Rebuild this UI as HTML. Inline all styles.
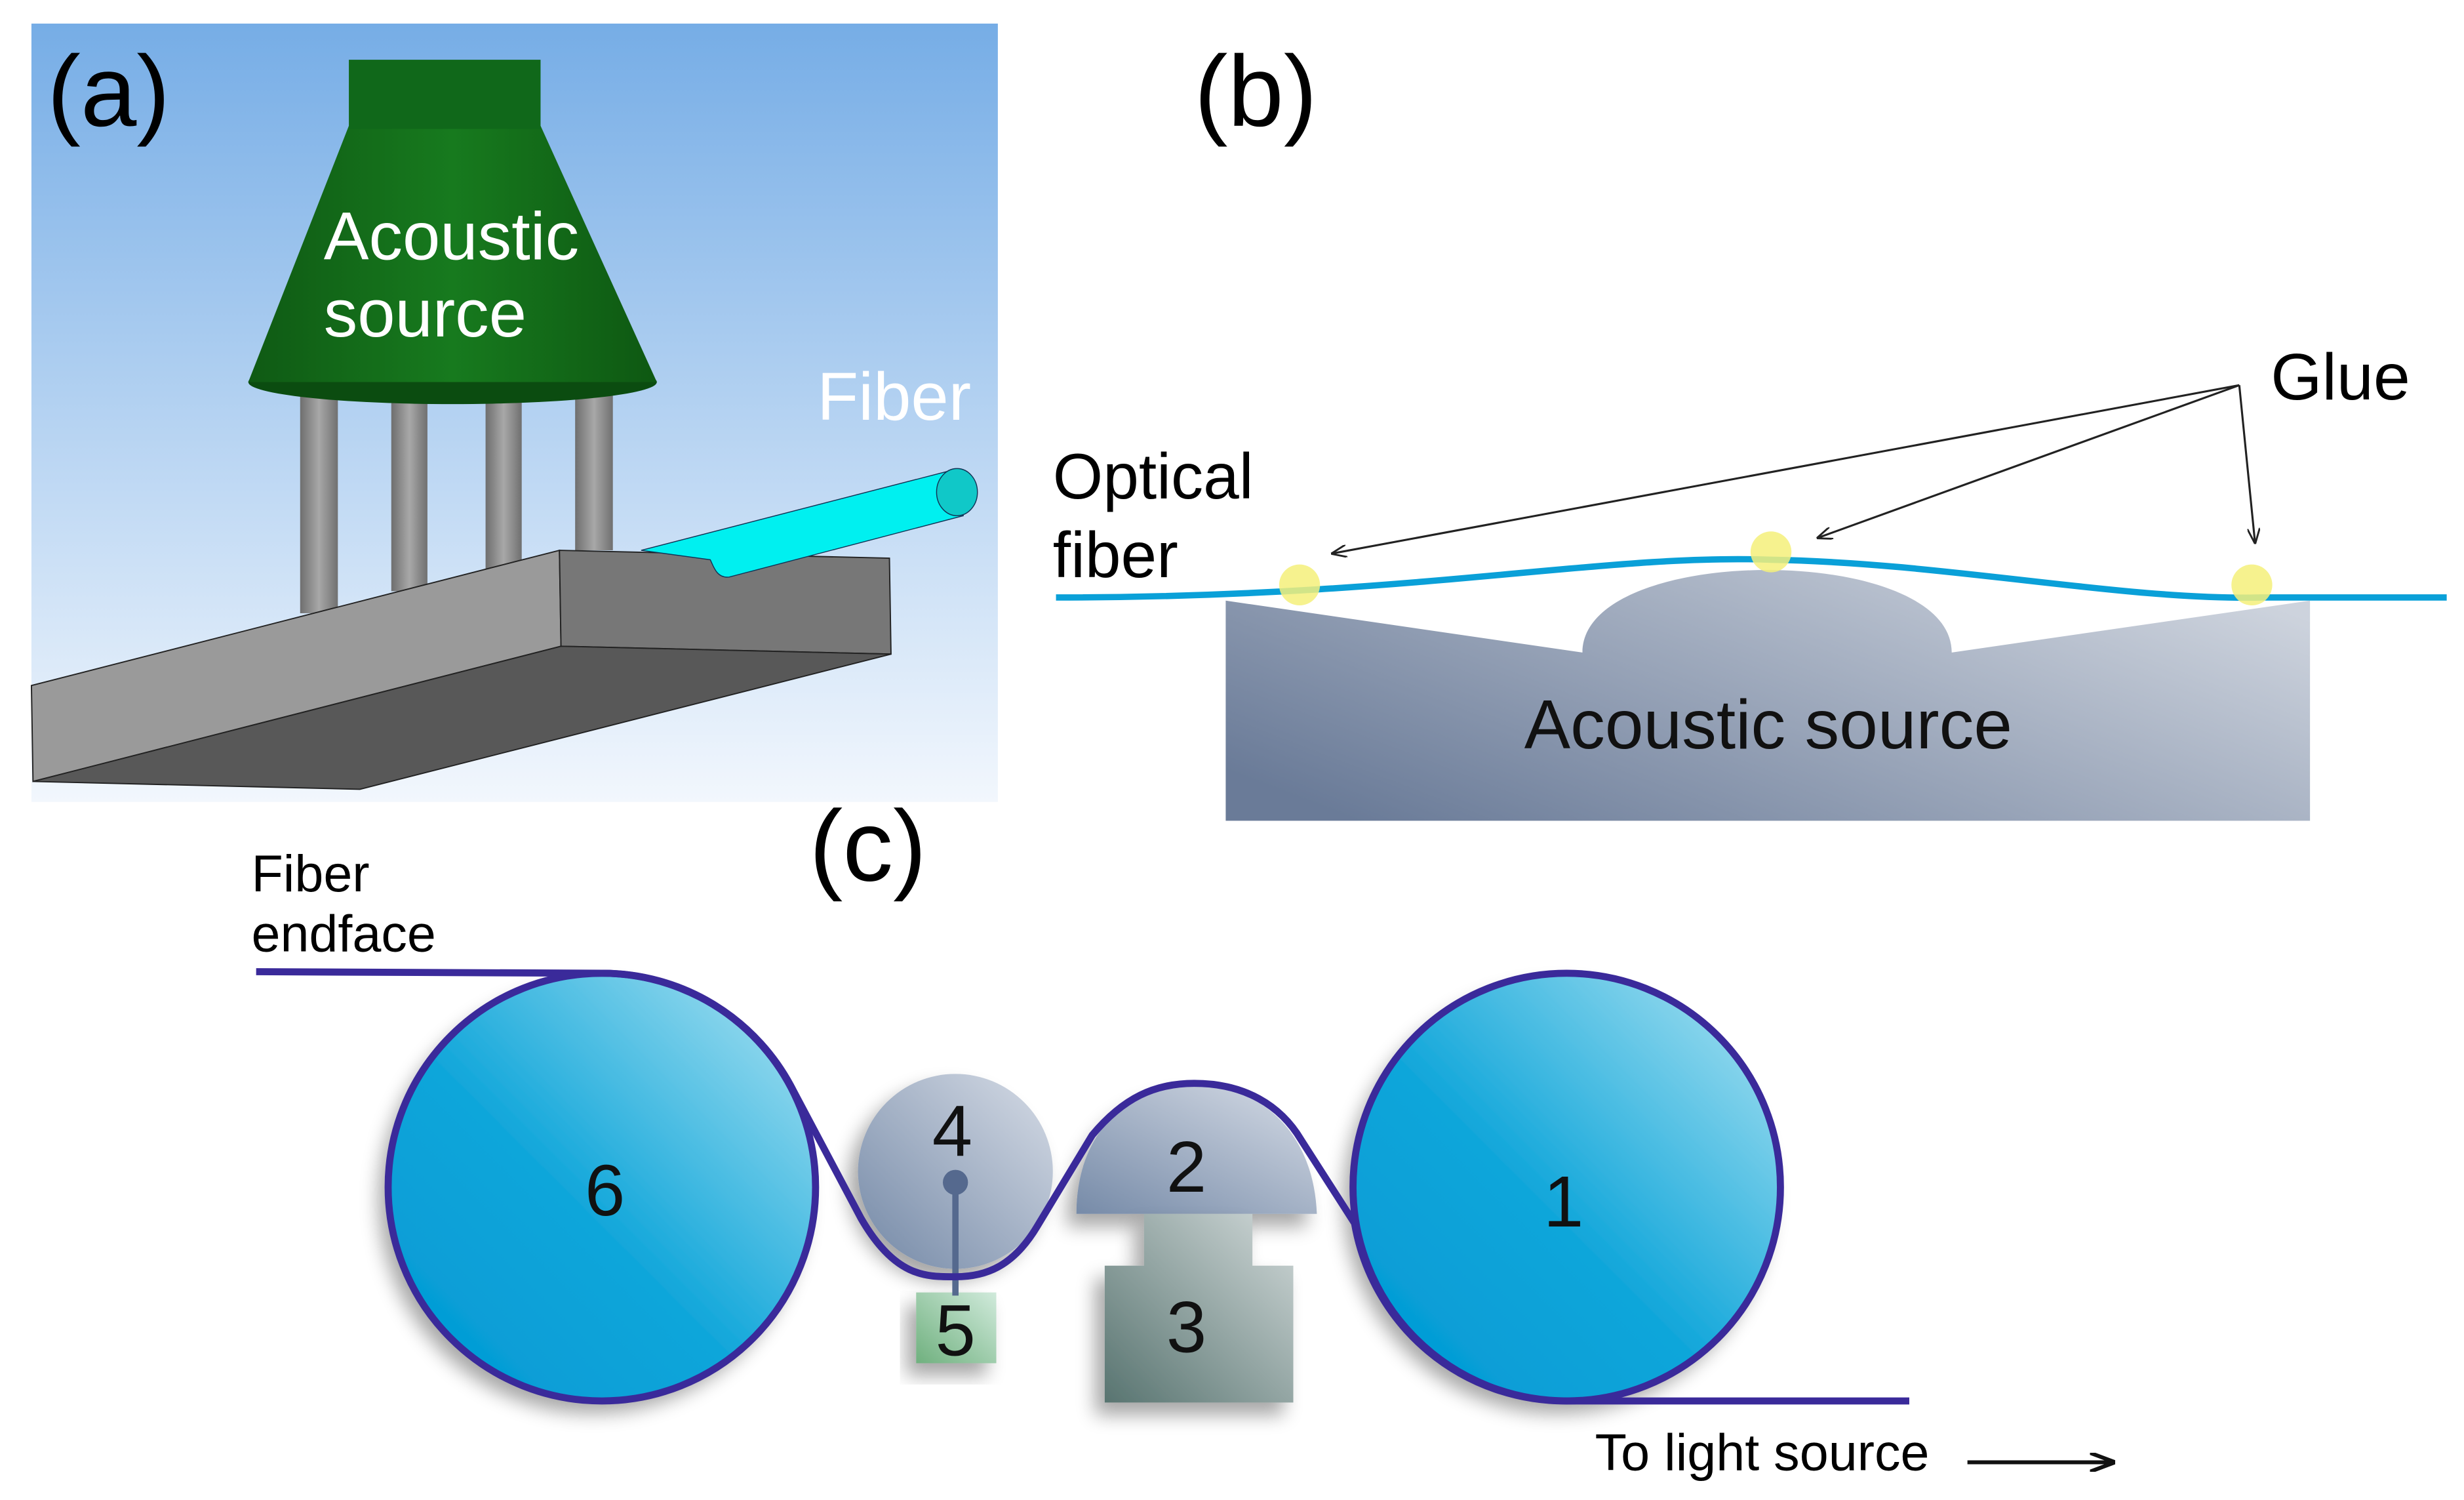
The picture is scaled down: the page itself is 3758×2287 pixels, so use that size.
<!DOCTYPE html>
<html><head><meta charset="utf-8"><style>html,body{margin:0;padding:0;background:#fff}svg{display:block}</style></head>
<body>
<svg width="3758" height="2287" viewBox="0 0 1568 954" preserveAspectRatio="none" xmlns="http://www.w3.org/2000/svg" font-family="Liberation Sans, Arial, sans-serif">
<defs>
<linearGradient id="sky" x1="0" y1="0" x2="0" y2="1"><stop offset="0" stop-color="#76ade6"/><stop offset="1" stop-color="#f2f7fd"/></linearGradient>
<linearGradient id="pil" x1="0" y1="0" x2="1" y2="0"><stop offset="0" stop-color="#6e6e6e"/><stop offset="0.5" stop-color="#a8a8a8"/><stop offset="1" stop-color="#707070"/></linearGradient>
<linearGradient id="blk" x1="0" y1="0.8" x2="1" y2="0.2"><stop offset="0" stop-color="#6a7b98"/><stop offset="1" stop-color="#cdd3dd"/></linearGradient>
<linearGradient id="wh" x1="0" y1="1" x2="1" y2="0"><stop offset="0" stop-color="#0098d4"/><stop offset="0.45" stop-color="#10a6da"/><stop offset="1" stop-color="#b0e4f2"/></linearGradient>
<linearGradient id="gr" x1="0" y1="1" x2="1" y2="0"><stop offset="0" stop-color="#7388a6"/><stop offset="1" stop-color="#d6dce6"/></linearGradient>
<linearGradient id="g3" x1="0" y1="1" x2="1" y2="0"><stop offset="0" stop-color="#587470"/><stop offset="1" stop-color="#d0d8d8"/></linearGradient>
<linearGradient id="g5" x1="0" y1="1" x2="1" y2="0"><stop offset="0" stop-color="#6fb07e"/><stop offset="1" stop-color="#d0eadb"/></linearGradient>
<linearGradient id="cone" x1="0" y1="0" x2="1" y2="0"><stop offset="0" stop-color="#0f5a14"/><stop offset="0.5" stop-color="#177a1e"/><stop offset="1" stop-color="#0e5812"/></linearGradient>
<filter id="sh" x="-20%" y="-20%" width="150%" height="150%"><feGaussianBlur in="SourceAlpha" stdDeviation="6"/><feOffset dx="-6" dy="8"/><feComponentTransfer><feFuncA type="linear" slope="0.35"/></feComponentTransfer><feMerge><feMergeNode/><feMergeNode in="SourceGraphic"/></feMerge></filter>
<marker id="ar" markerWidth="10" markerHeight="8" refX="9" refY="4" orient="auto" markerUnits="userSpaceOnUse"><path d="M0,0 L10,4 L0,8" fill="none" stroke="#222" stroke-width="1.2"/></marker>
<marker id="ar2" markerWidth="16" markerHeight="12" refX="15" refY="6" orient="auto" markerUnits="userSpaceOnUse"><path d="M0,0 L16,6 L0,12" fill="none" stroke="#111" stroke-width="2.5"/></marker>
</defs>

<!-- Panel a -->
<rect x="20" y="15" width="615" height="495" fill="url(#sky)"/>
<rect x="191" y="252" width="24" height="138" fill="url(#pil)"/>
<rect x="249" y="238" width="23" height="138" fill="url(#pil)"/>
<rect x="309" y="252" width="23" height="110" fill="url(#pil)"/>
<rect x="366" y="240" width="24" height="110" fill="url(#pil)"/>
<ellipse cx="288" cy="243" rx="130" ry="14" fill="#0b4c10"/>
<polygon points="222,80 344,80 418,243 158,243" fill="url(#cone)"/>
<rect x="222" y="38" width="122" height="44" fill="#10681a"/>
<polygon points="20,436 356,350 357,411 21,497" fill="#9a9a9a" stroke="#222" stroke-width="0.8"/>
<polygon points="356,350 566,355 567,416 357,411" fill="#777" stroke="#222" stroke-width="0.8"/>
<polygon points="21,497 357,411 567,416 229,502" fill="#585858" stroke="#222" stroke-width="0.8"/>
<path d="M408,350 L606,299 L613,328 L464,367 C456,368 454,360 452,356 Z" fill="#00f0f0" stroke="#135" stroke-width="0.6"/>
<ellipse cx="609" cy="313" rx="13" ry="15" fill="#10c8c8" stroke="#135" stroke-width="0.6"/>
<text x="30" y="80" font-size="64" fill="#000">(a)</text>
<text x="206" y="165" font-size="43" fill="#fff">Acoustic</text>
<text x="206" y="214" font-size="43" fill="#fff">source</text>
<text x="520" y="267" font-size="43" fill="#fff">Fiber</text>

<!-- Panel b -->
<text x="760" y="80" font-size="64" fill="#000">(b)</text>
<path d="M780,382 L1007,415 C1007,345 1242,345 1242,415 L1470,382 L1470,522 L780,522 Z" fill="url(#blk)"/>
<path d="M672,380 C900,380 1020,352 1127,356 C1240,358 1350,382 1440,380 L1557,380" fill="none" stroke="#0aa0d8" stroke-width="4"/>
<circle cx="827" cy="372" r="13" fill="#f4f07a" opacity="0.85"/>
<circle cx="1127" cy="351" r="13" fill="#f4f07a" opacity="0.85"/>
<circle cx="1433" cy="372" r="13" fill="#f4f07a" opacity="0.85"/>
<line x1="1425" y1="245" x2="848" y2="352" stroke="#222" stroke-width="1.3" marker-end="url(#ar)"/>
<line x1="1425" y1="245" x2="1157" y2="342" stroke="#222" stroke-width="1.3" marker-end="url(#ar)"/>
<line x1="1425" y1="245" x2="1435" y2="345" stroke="#222" stroke-width="1.3" marker-end="url(#ar)"/>
<text x="1445" y="254" font-size="42" fill="#000">Glue</text>
<text x="670" y="317" font-size="41" fill="#000">Optical</text>
<text x="670" y="367" font-size="41" fill="#000">fiber</text>
<text x="970" y="476" font-size="44" fill="#111">Acoustic source</text>

<!-- Panel c -->
<text x="515" y="560" font-size="64" fill="#000">(c)</text>
<text x="160" y="567" font-size="33" fill="#000">Fiber</text>
<text x="160" y="605" font-size="33" fill="#000">endface</text>
<circle cx="383" cy="755" r="136" fill="url(#wh)" filter="url(#sh)"/>
<circle cx="997" cy="755" r="136" fill="url(#wh)" filter="url(#sh)"/>
<circle cx="608" cy="745" r="62" fill="url(#gr)" filter="url(#sh)"/>
<path d="M675,772 L685,772 C685,720 718,690 760,690 C802,690 836,720 838,772 Z" fill="url(#gr)" filter="url(#sh)"/>
<path d="M728,772 L797,772 L797,805 L823,805 L823,892 L703,892 L703,805 L728,805 Z" fill="url(#g3)" filter="url(#sh)"/>
<rect x="583" y="822" width="51" height="45" fill="url(#g5)" filter="url(#sh)"/>
<line x1="608" y1="752" x2="608" y2="824" stroke="#55698e" stroke-width="4"/>
<circle cx="608" cy="752" r="8" fill="#55698e"/>
<path d="M163,618 L383,619 A136,136 0 0 1 505,694 L548,775 C570,813 590,812 608,812 C628,812 645,805 660,780 L695,722 C715,698 735,689 760,689 C792,689 815,703 828,725 L862,778 A136,136 0 0 0 997,891 L1215,891" fill="none" stroke="#3a2a9a" stroke-width="4.5"/>
<circle cx="383" cy="755" r="136" fill="none" stroke="#3a2a9a" stroke-width="4.5"/>
<circle cx="997" cy="755" r="136" fill="none" stroke="#3a2a9a" stroke-width="4.5"/>
<g font-size="46" fill="#111" text-anchor="middle">
<text x="385" y="773">6</text>
<text x="995" y="780">1</text>
<text x="606" y="735">4</text>
<text x="755" y="758">2</text>
<text x="755" y="860">3</text>
<text x="608" y="862">5</text>
</g>
<text x="1015" y="935" font-size="33" fill="#000">To light source</text>
<line x1="1252" y1="930" x2="1345" y2="930" stroke="#111" stroke-width="2.5" marker-end="url(#ar2)"/>
</svg>
</body></html>
